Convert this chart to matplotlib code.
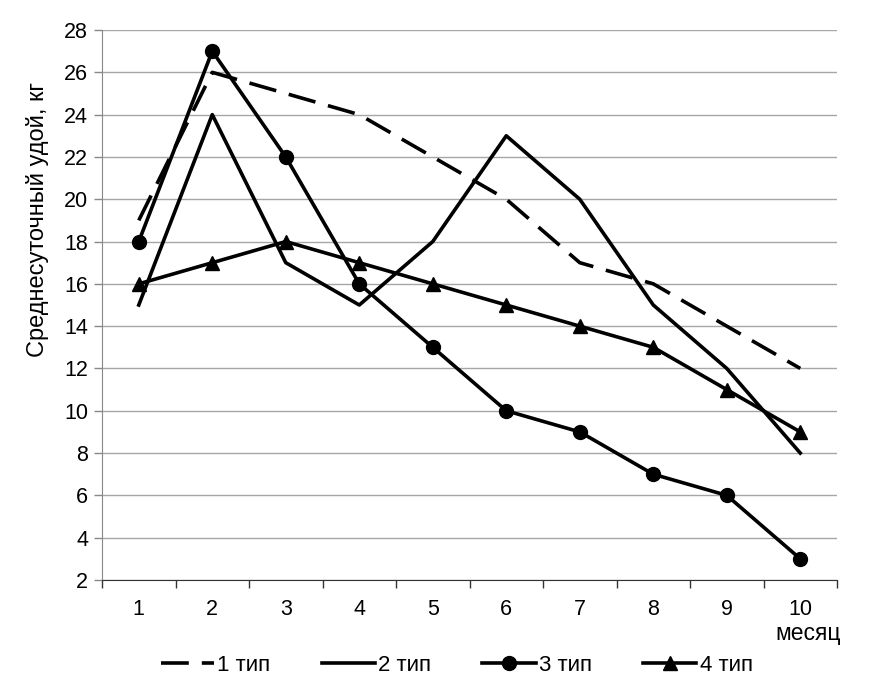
import matplotlib.pyplot as plt
import numpy as np

# ── Data ──────────────────────────────────────────────────────────────────────

months = [1, 2, 3, 4, 5, 6, 7, 8, 9, 10]
type1 = [19, 26, 25, 24, 22, 20, 17, 16, 14, 12]
type2 = [15, 24, 17, 15, 18, 23, 20, 15, 12, 8]
type3 = [18, 27, 22, 16, 13, 10, 9, 7, 6, 3]
type4 = [16, 17, 18, 17, 16, 15, 14, 13, 11, 9]
labels = ["1 тип", "2 тип", "3 тип", "4 тип"]

plt.rcParams["font.family"] = ["Liberation Sans", "DejaVu Sans"]

# ── Figure ────────────────────────────────────────────────────────────────────

fig = plt.figure(figsize=(8.75, 6.95), dpi=100)
ax = fig.add_axes([0.1166, 0.1655, 0.84, 0.7913])

lw = 2.6
ax.plot(months, type1, color="black", lw=lw, dashes=(7.7, 3.6), label=labels[0])
ax.plot(months, type2, color="black", lw=lw, label=labels[1])
ax.plot(months, type3, color="black", lw=lw, marker="o", ms=10, label=labels[2])
ax.plot(months, type4, color="black", lw=lw, marker="^", ms=10, label=labels[3])

ax.set_xlim(0.5, 10.5)
ax.set_ylim(2, 28)
ax.set_yticks(np.arange(2, 29, 2))
ax.set_xticks(months)
ax.set_xticks(np.arange(0.5, 11, 1), minor=True)
ax.tick_params(axis="x", which="major", length=0, labelsize=15.5, pad=14)
ax.tick_params(axis="x", which="minor", length=6, width=1, color="#333333")
ax.tick_params(axis="y", length=6, width=1, color="#888888", labelsize=15.5, pad=4)

ax.yaxis.grid(True, color="#a6a6a6", lw=1)
ax.set_axisbelow(True)
for s in ["top", "right"]:
    ax.spines[s].set_visible(False)
ax.spines["left"].set_color("#888888")
ax.spines["bottom"].set_color("#333333")

ax.set_ylabel("Среднесуточный удой, кг", fontsize=17)
ax.yaxis.set_label_coords(-0.072, 0.655)
ax.text(10.55, 0.0, "месяц", ha="right", va="top", fontsize=16.5,
        transform=ax.transData)

fig.legend(loc="center", ncol=4, frameon=False, fontsize=16,
           bbox_to_anchor=(0.522, 0.043), handlelength=2.4, handletextpad=0.15,
           columnspacing=2.3)

fig.savefig("out.png", dpi=100)
